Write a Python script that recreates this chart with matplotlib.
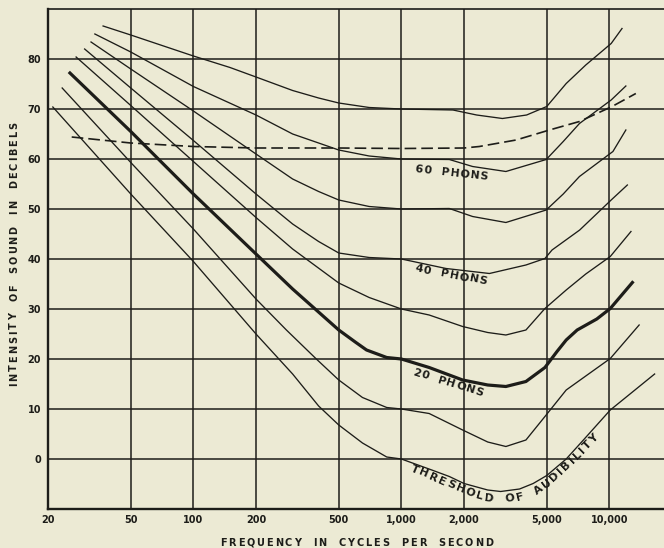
import numpy as np
import matplotlib
matplotlib.use('Agg')
import matplotlib.pyplot as plt
from matplotlib.font_manager import FontProperties
from matplotlib.transforms import IdentityTransform
from matplotlib.ticker import NullLocator, FixedLocator, FixedFormatter

W, H = 664, 548
BG = '#ECEAD4'
INK = '#1d1d19'

# ---------------- data ----------------
grid_freqs = [20, 50, 100, 200, 500, 1000, 2000, 5000, 10000]
tick_labels = ['20', '50', '100', '200', '500', '1,000', '2,000', '5,000', '10,000']
y_ticks = [0, 10, 20, 30, 40, 50, 60, 70, 80]
y_labels = ['0', '10', '20', '30', '40', '50', '60', '70', '80']

freq_0 = [21.1, 50, 100, 200, 300, 400, 500, 650, 850, 1000, 1400, 1700, 2000, 2600, 3000, 3700, 4300, 5000, 6200, 7500, 10100, 13000, 16500]
db_0 = [70.4, 53, 39.5, 25, 17, 10.6, 6.8, 3.2, 0.4, 0, -2.2, -3.5, -4.9, -6.2, -6.5, -6.0, -4.9, -3.3, 0, 3.8, 9.8, 13.5, 17]

freq_10 = [23.4, 50, 100, 200, 280, 390, 500, 650, 850, 1000, 1360, 1970, 2600, 3180, 3970, 4900, 6200, 7700, 10100, 13900]
db_10 = [74.2, 59.3, 46, 32, 25.8, 20, 15.8, 12.3, 10.3, 10, 9.1, 5.8, 3.4, 2.5, 3.8, 8.5, 13.8, 16.6, 20.1, 26.8]

freq_20 = [25.5, 50, 100, 200, 300, 500, 600, 680, 850, 1000, 1360, 1970, 2600, 3180, 3970, 4900, 5600, 6200, 7000, 8700, 10100, 12900]
db_20 = [77.2, 65.5, 53, 41, 34, 25.8, 23.4, 21.8, 20.3, 20, 18.3, 15.8, 14.8, 14.5, 15.5, 18.3, 21.5, 23.8, 25.8, 28, 30.1, 35.3]

freq_30 = [27.3, 50, 100, 200, 300, 500, 700, 1000, 1360, 1970, 2600, 3180, 3970, 4900, 6200, 7700, 10100, 12700]
db_30 = [80.4, 70.7, 59.5, 48.3, 42, 35.2, 32.3, 30, 28.8, 26.5, 25.3, 24.8, 25.8, 30.1, 33.8, 37, 40.5, 45.5]

freq_40 = [30, 50, 100, 200, 300, 400, 500, 700, 1000, 1640, 2650, 3970, 4900, 5300, 7200, 10200, 12200]
db_40 = [82, 74.2, 63.7, 53, 47, 43.5, 41.2, 40.3, 40, 38.1, 37.1, 38.8, 40.1, 41.8, 45.8, 51.8, 54.8]

freq_50 = [32.2, 50, 100, 200, 300, 400, 500, 700, 1000, 1700, 2200, 3180, 4970, 6000, 7180, 10400, 12000]
db_50 = [83.4, 78, 69.6, 61, 56, 53.5, 51.8, 50.5, 50, 50.1, 48.5, 47.3, 49.8, 53, 56.5, 61.5, 65.8]

freq_60 = [33.6, 50, 100, 200, 300, 400, 500, 700, 1000, 1700, 2200, 3180, 4970, 6000, 7180, 10200, 12000]
db_60 = [85, 81.4, 74.5, 68.8, 65, 63.2, 61.8, 60.6, 60, 59.9, 58.5, 57.5, 59.9, 63.5, 67.1, 71.8, 74.6]

freq_70 = [36.8, 50, 100, 150, 200, 300, 400, 500, 700, 1000, 1770, 2300, 3060, 4000, 5000, 6200, 7700, 10200, 11500]
db_70 = [86.6, 84.8, 80.6, 78.3, 76.4, 73.7, 72.2, 71.2, 70.3, 70, 69.8, 68.8, 68.1, 68.8, 70.5, 75.1, 78.8, 83.1, 86.1]

freq_dash = [26, 50, 100, 200, 500, 1000, 2000, 2370, 3560, 5150, 7180, 10300, 13400]
db_dash = [64.4, 63.2, 62.5, 62.2, 62.2, 62.1, 62.2, 62.5, 63.8, 65.8, 67.5, 70.5, 73.1]

thin_curves = [(freq_0, db_0), (freq_10, db_10), (freq_30, db_30), (freq_40, db_40),
               (freq_50, db_50), (freq_60, db_60), (freq_70, db_70)]

# ---------------- figure ----------------
fig = plt.figure(figsize=(W / 100, H / 100), dpi=100, facecolor=BG)
ax = fig.add_axes([48 / W, 1 - 509 / H, (W - 48) / W, 500 / H])
ax.set_facecolor(BG)
ax.set_xscale('log')
ax.set_xlim(20, 20 * 10 ** ((W - 48) / 208))
ax.set_ylim(-10, 90)

for f in grid_freqs[1:]:
    ax.axvline(f, color=INK, lw=1.1, zorder=1)
for v in y_ticks:
    ax.axhline(v, color=INK, lw=1.1, zorder=1)

ax.spines['right'].set_visible(False)
for s in ['left', 'bottom']:
    ax.spines[s].set_linewidth(1.7)
    ax.spines[s].set_color(INK)
ax.spines['top'].set_linewidth(1.2)
ax.spines['top'].set_color(INK)

ax.xaxis.set_major_locator(FixedLocator(grid_freqs))
ax.xaxis.set_major_formatter(FixedFormatter(tick_labels))
ax.xaxis.set_minor_locator(NullLocator())
ax.set_yticks(y_ticks)
ax.set_yticklabels(y_labels)
ax.tick_params(length=0, labelsize=7, colors=INK)
ax.tick_params(axis='x', pad=4)
ax.tick_params(axis='y', pad=5)
for lab in ax.get_xticklabels() + ax.get_yticklabels():
    lab.set_fontweight('bold')

for fx, dy in thin_curves:
    ax.plot(fx, dy, color=INK, lw=0.95, zorder=3, solid_joinstyle='round')
ax.plot(freq_20, db_20, color=INK, lw=2.3, zorder=3, solid_joinstyle='round')
ax.plot(freq_dash, db_dash, color=INK, lw=1.2, dashes=(7, 3), zorder=3)

# ---------------- text helpers ----------------
fig.canvas.draw()
renderer = fig.canvas.get_renderer()


def widths(text, fp):
    out = []
    px = fp.get_size_in_points() * 100 / 72
    for ch in text:
        if ch == ' ':
            out.append(0.33 * px)
        else:
            w, h, d = renderer.get_text_width_height_descent(ch, fp, ismath=False)
            out.append(w)
    return out


def text_on_path(pts, text, fp, tracking=None):
    pts = np.asarray(pts, float)
    seg = np.hypot(np.diff(pts[:, 0]), np.diff(pts[:, 1]))
    cum = np.concatenate([[0], np.cumsum(seg)])
    total = cum[-1]
    ws = widths(text, fp)
    if tracking is None:
        tracking = (total - sum(ws)) / max(len(text) - 1, 1)
    L = sum(ws) + tracking * (len(text) - 1)
    s = (total - L) / 2

    def at(sv):
        sv = min(max(sv, 0), total)
        return np.interp(sv, cum, pts[:, 0]), np.interp(sv, cum, pts[:, 1])

    for ch, w in zip(text, ws):
        c = s + w / 2
        if ch != ' ':
            x, y = at(c)
            x1, y1 = at(c - 4)
            x2, y2 = at(c + 4)
            ang = np.degrees(np.arctan2(-(y2 - y1), x2 - x1))
            fig.text(x, H - y, ch, transform=IdentityTransform(), rotation=ang,
                     rotation_mode='anchor', ha='center', va='center',
                     fontproperties=fp, color=INK)
        s += w + tracking


fp_axis = FontProperties(family='DejaVu Sans', weight='bold', size=7)
fp_lab = FontProperties(family='DejaVu Sans', weight='bold', size=8)

text_on_path([(220, 542.5), (493, 542.5)], 'FREQUENCY  IN  CYCLES  PER  SECOND', fp_axis)
text_on_path([(14, 386), (14, 122)], 'INTENSITY  OF  SOUND  IN  DECIBELS', fp_axis)

text_on_path([(415, 169), (488, 177)], '60  PHONS', fp_lab)
text_on_path([(415, 268), (487, 282)], '40  PHONS', fp_lab)
text_on_path([(413, 372), (483, 394)], '20  PHONS', fp_lab)
text_on_path([(411, 468), (430, 476), (450, 485), (470, 493), (487, 498), (505, 499),
              (520, 497), (535, 492), (550, 481), (565, 467), (580, 453), (597, 436)],
             'THRESHOLD  OF  AUDIBILITY', fp_lab)

fig.savefig('out.png', dpi=100, facecolor=BG)
